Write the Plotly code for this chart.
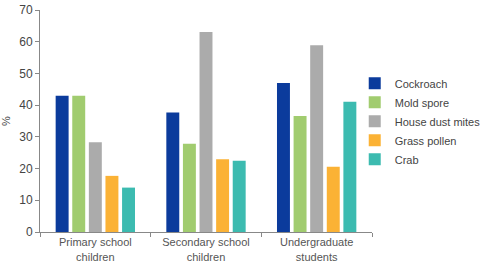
import plotly.graph_objects as go

categories = ["Primary school<br>children", "Secondary school<br>children", "Undergraduate<br>students"]
series_names = ["Cockroach", "Mold spore", "House dust mites", "Grass pollen", "Crab"]
cockroach = [43.0, 37.7, 47.0]
mold_spore = [43.0, 27.8, 36.6]
house_dust_mites = [28.3, 63.1, 58.9]
grass_pollen = [17.7, 22.9, 20.6]
crab = [14.0, 22.5, 41.1]
colors = ["#0b3b9c", "#a1cc6f", "#ababab", "#fbb235", "#3cbbb0"]

values = [cockroach, mold_spore, house_dust_mites, grass_pollen, crab]

fig = go.Figure()
for name, vals, c in zip(series_names, values, colors):
    fig.add_trace(go.Bar(x=categories, y=vals, name=name, marker_color=c, marker_line_width=0))

fig.update_layout(
    width=480, height=266,
    margin=dict(l=40, r=108, t=10, b=34, autoexpand=False),
    paper_bgcolor="white", plot_bgcolor="white",
    barmode="group", bargap=0.25, bargroupgap=0.22,
    font=dict(family="Liberation Sans, Arial, sans-serif", color="#444444", size=11),
    showlegend=True,
    legend=dict(x=0.948, xanchor="left", y=0.735, yanchor="top",
                font=dict(size=11, color="#444444"), itemwidth=30,
                tracegroupgap=0, bgcolor="rgba(0,0,0,0)"),
    xaxis=dict(showline=True, linecolor="#888888", linewidth=1,
               ticks="outside", tickson="boundaries", ticklen=4, tickcolor="#888888",
               tickfont=dict(size=11, color="#555555"), showgrid=False),
    yaxis=dict(range=[0, 70], dtick=10, showline=True, linecolor="#888888", linewidth=1,
               ticks="outside", ticklen=4, tickcolor="#888888", showgrid=False,
               zeroline=False, tickfont=dict(size=12, color="#444444"),
               title=dict(text="%", font=dict(size=11, color="#444444"), standoff=6)),
)

fig.write_html("out.html")
